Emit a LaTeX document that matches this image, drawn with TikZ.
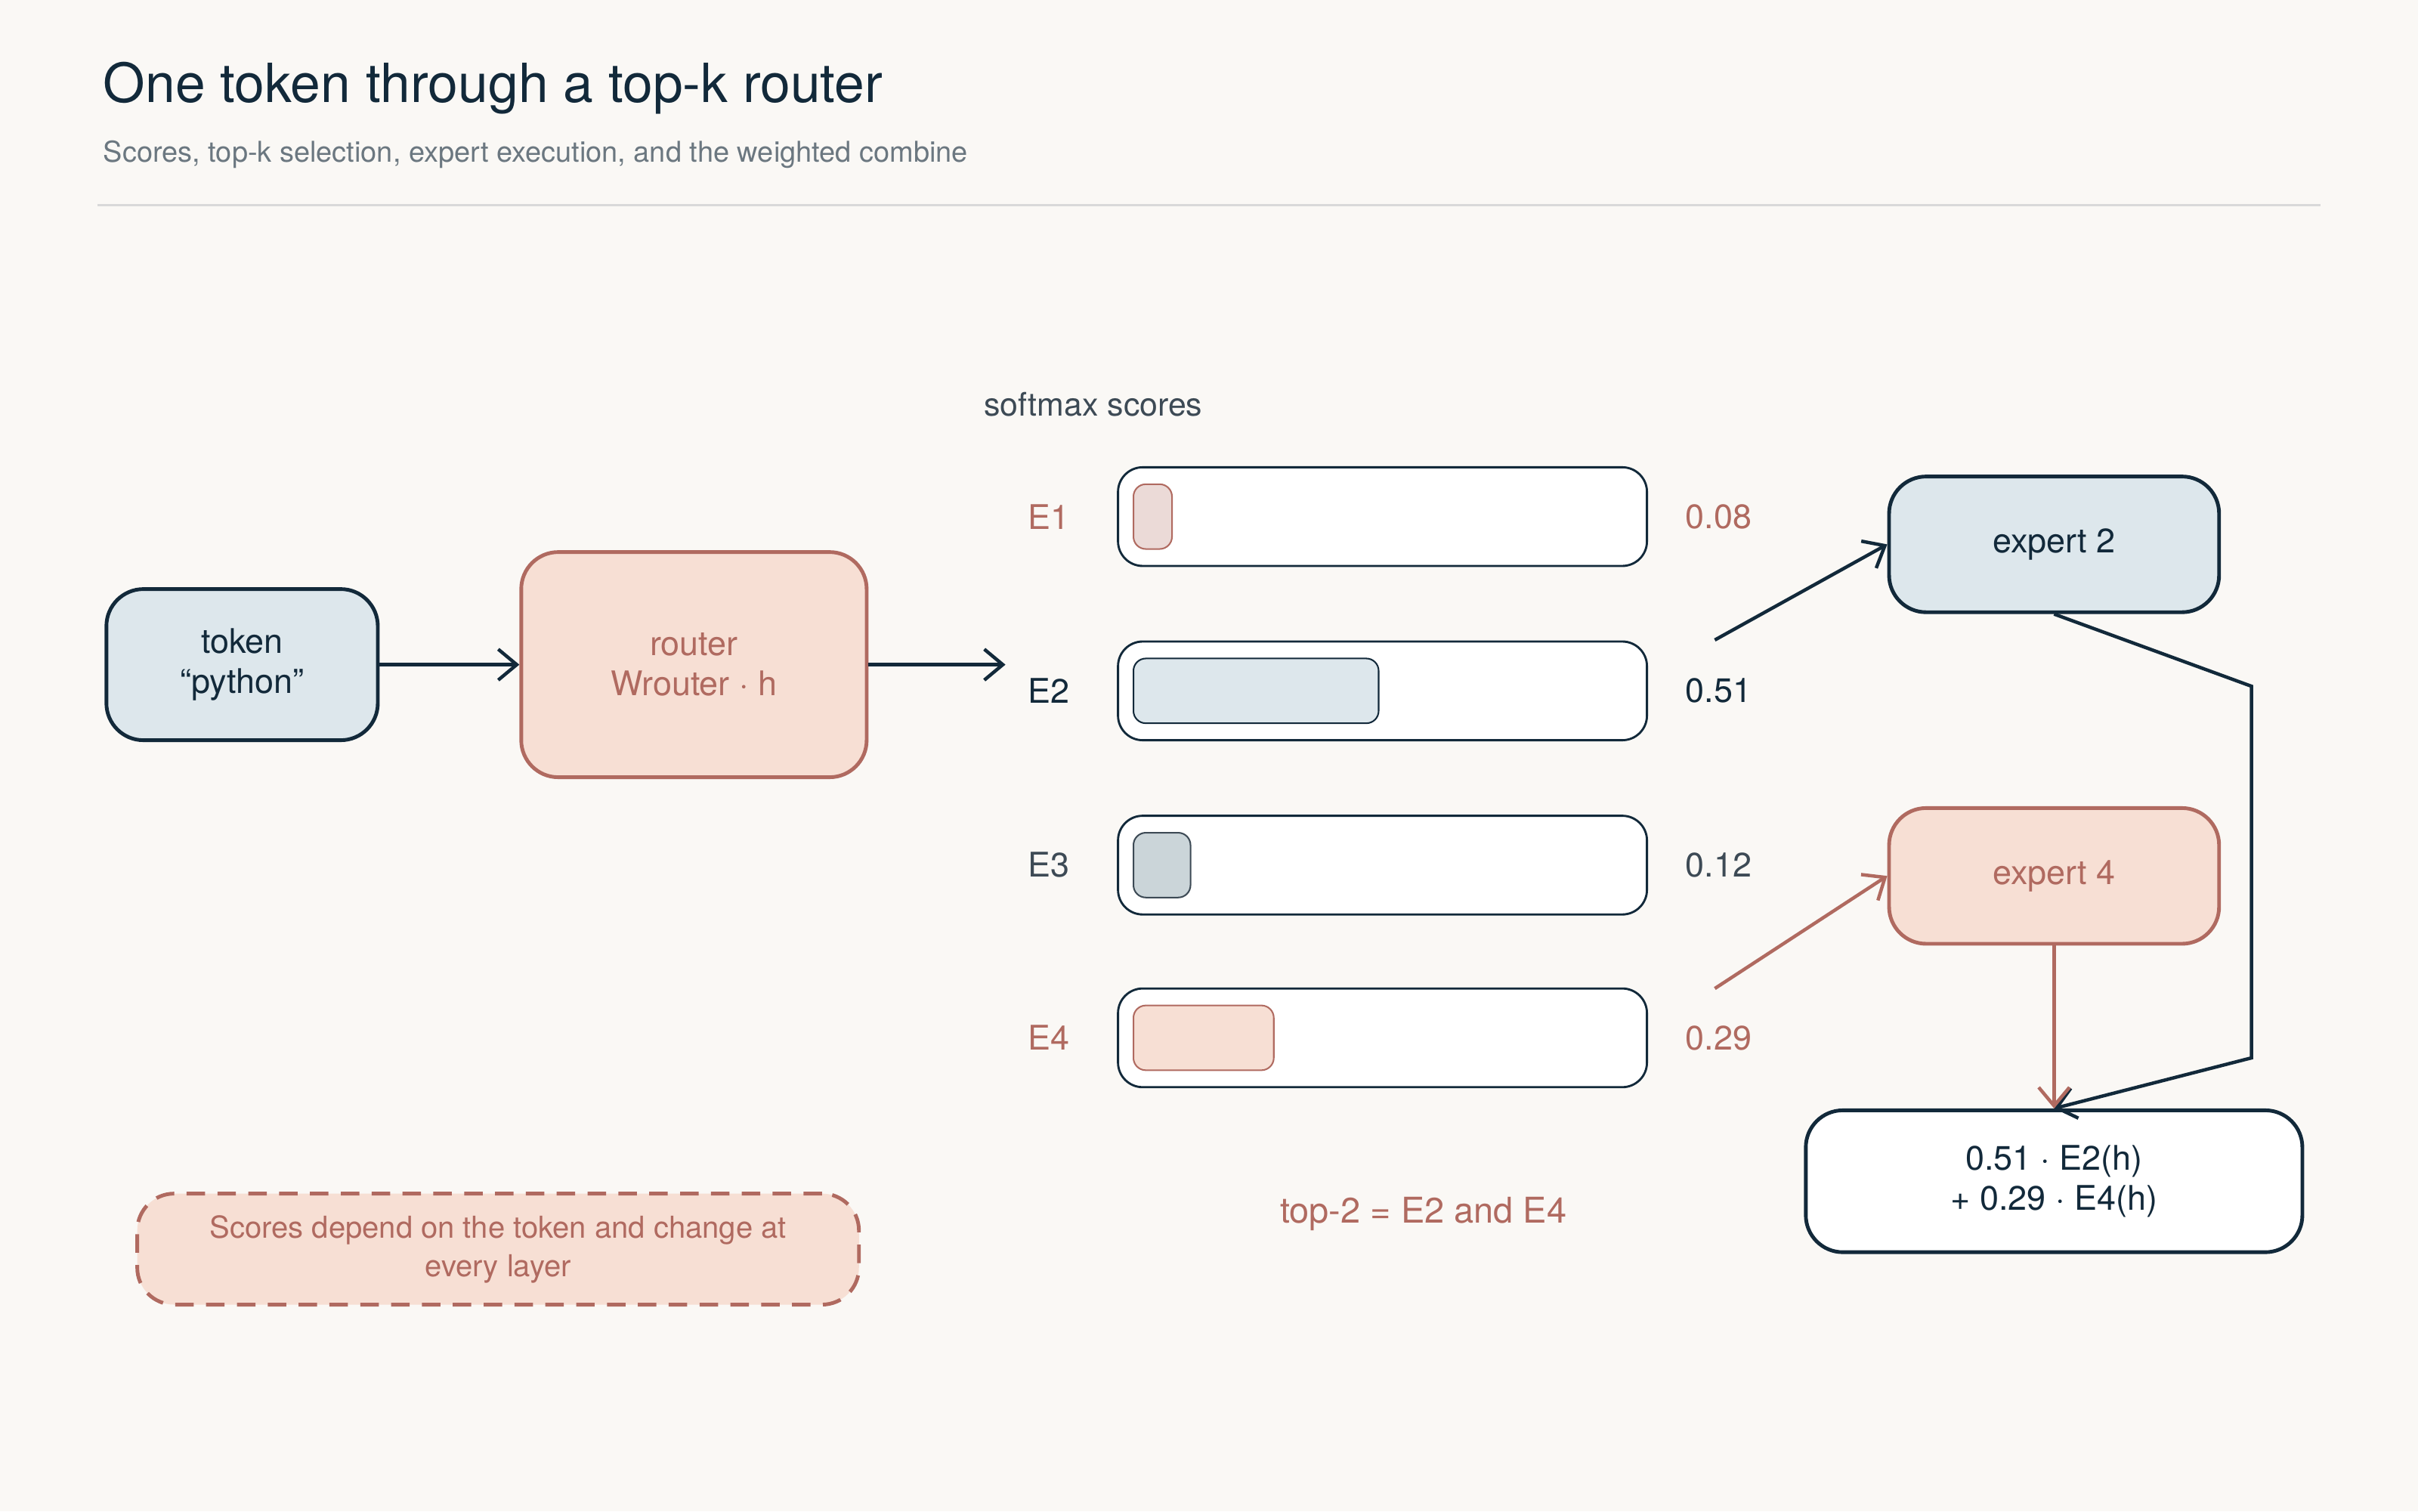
\documentclass[tikz,border=0pt]{standalone}
\usepackage{fontspec}
\setmainfont{TeX Gyre Heros}
\usetikzlibrary{arrows.meta}
\definecolor{bg}{HTML}{FAF8F5}
\definecolor{navy}{HTML}{12293A}
\definecolor{rust}{HTML}{B06A60}
\definecolor{pinkf}{HTML}{F7DFD4}
\definecolor{bluef}{HTML}{DDE7EC}
\definecolor{grayt}{HTML}{3D4A55}
\definecolor{sub}{HTML}{6B7780}
\tikzset{
 box/.style={draw, rounded corners=12pt, line width=1.2pt, align=center, inner sep=0pt},
 bluebox/.style={box, fill=bluef, draw=navy, text=navy},
 pinkbox/.style={box, fill=pinkf, draw=rust, text=rust},
 bar/.style={draw=navy, fill=white, rounded corners=8pt, line width=0.7pt},
 ibar/.style={rounded corners=4pt, line width=0.5pt},
 arr/.style={line width=1.1pt, -{Straight Barb[length=6pt,width=10pt]}},
 lbl/.style={font=\fontsize{11}{13}\selectfont},
}
\begin{document}
\begin{tikzpicture}[x=0.5pt,y=-0.5pt]
\fill[bg] (0,0) rectangle (1568,980);
\useasboundingbox (0,0) rectangle (1568,980);
\node[anchor=west,text=navy,font=\fontsize{17.5}{20}\selectfont] (title) at (60,57) {One token through a top-k router};
\node[anchor=west,text=sub,font=\fontsize{9.3}{11}\selectfont] (subt) at (60,100) {Scores, top-k selection, expert execution, and the weighted combine};
\draw[black!15, line width=0.6pt] (63,133) -- (1505,133);
\node[text=grayt,lbl,font=\fontsize{10.5}{12}\selectfont] (sm) at (709,262) {softmax scores};

\node[bluebox, minimum width=88pt, minimum height=49pt, lbl] (tok) at (157,431) {token\\“python”};
\node[pinkbox, minimum width=112pt, minimum height=73pt, lbl] (rt) at (450,431) {router\\Wrouter · h};
\coordinate (rend) at (652,431);
\draw[arr,navy] (tok) -- (rt);
\draw[arr,navy] (rt) -- (rend);

% bars
\foreach \n/\y/\w/\fc/\dc/\tc/\v in {1/335/760/{rust!25!white}/rust/rust/0.08, 2/448/894/bluef/navy/navy/0.51, 3/561/772/{black!8!bluef}/grayt/grayt/0.12, 4/673/826/pinkf/rust/rust/0.29}{
 \node[lbl,text=\tc] (e\n) at (680,\y) {E\n};
 \draw[bar] (725,\y-32) rectangle (1068,\y+32);
 \draw[ibar,fill=\fc,draw=\dc] (735,\y-21) rectangle (\w,\y+21);
 \node[lbl,text=\tc,anchor=west] (v\n) at (1086,\y) {\v};
}
\node[bluebox, minimum width=107pt, minimum height=44pt, lbl] (x2) at (1332,353) {expert 2};
\node[pinkbox, minimum width=107pt, minimum height=44pt, lbl] (x4) at (1332,568) {expert 4};
\node[box, draw=navy, fill=white, text=navy, minimum width=161pt, minimum height=46pt, lbl] (cmb) at (1332,766) {0.51 · E2(h)\\+ 0.29 · E4(h)};
\coordinate (s2) at (1112,415);
\coordinate (s4) at (1112,641);
\draw[arr,navy] (s2) -- (x2.west);
\draw[arr,rust] (s4) -- (x4.west);
\draw[arr,navy] (x2.south) -- (1460,445) -- (1460,686) -- (cmb.north);
\draw[arr,rust] (x4.south) -- (cmb.north);
\node[text=rust,font=\fontsize{11.5}{13}\selectfont] (top) at (923,787) {top-2 = E2 and E4};
\node[box, fill=pinkf, draw=rust, dashed, dash pattern=on 6pt off 4pt, text=rust, minimum width=234pt, minimum height=36pt, font=\fontsize{9.8}{12.5}\selectfont] (note) at (323,810) {Scores depend on the token and change at\\every layer};
\end{tikzpicture}
\end{document}
